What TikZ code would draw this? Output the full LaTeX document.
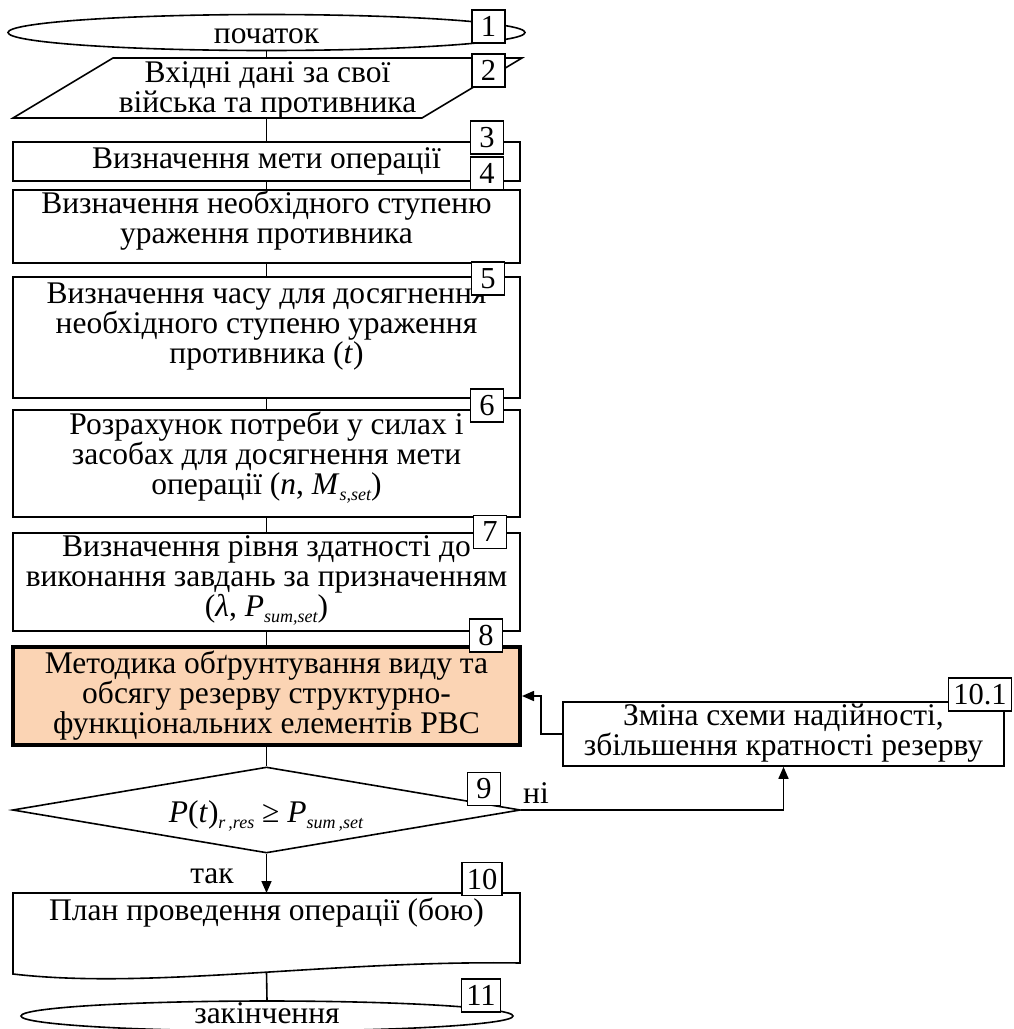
\documentclass[tikz,border=0pt]{standalone}
\usepackage{fontspec}
\setmainfont{Liberation Serif}
\usetikzlibrary{shapes.geometric,arrows.meta}
\definecolor{peach}{RGB}{251,212,180}
% italic subscript used in the formulas
\newcommand{\lowsub}[1]{\raisebox{-6pt}{\fontsize{18}{18}\selectfont\itshape #1}}
\tikzset{
  every node/.style={font=\fontsize{31.5}{30}\selectfont},
  line/.style={line width=1.6pt},
  box/.style={draw, line width=1.6pt, inner sep=0pt},
  place/.style={inner sep=0pt, outer sep=0pt},
  txt/.style={align=center, inner sep=0pt},
  numbox/.style={draw, fill=white, line width=1.6pt, minimum width=33pt,
    minimum height=33pt, inner sep=0pt, inner xsep=5pt, font=\fontsize{30.5}{30}\selectfont},
  arr/.style={line width=1.6pt, -{Triangle[length=12pt,width=10pt]}},
}
\begin{document}
\begin{tikzpicture}[x=1pt,y=-1pt]
\useasboundingbox (0,0) rectangle (1013,1029);

% --- shapes of the main column ---
\node[box, ellipse, minimum width=517pt, minimum height=36pt] (e1) at (266.5,32.5) {};
\node[place, minimum width=409pt, minimum height=60pt] (p2) at (266.5,88) {};
\draw[line] (13,118) -- (113,58) -- (522,58) -- (422,118) -- cycle;
\node[box, minimum width=507pt, minimum height=39pt] (b3) at (266.5,161.5) {};
\node[box, minimum width=507pt, minimum height=73pt] (b4) at (266.5,226.5) {};
\node[box, minimum width=507pt, minimum height=121pt] (b5) at (266.5,337.5) {};
\node[box, minimum width=507pt, minimum height=107pt] (b6) at (266.5,463.5) {};
\node[box, minimum width=507pt, minimum height=98pt] (b7) at (266.5,582) {};
\node[box, fill=peach, line width=4pt, minimum width=507pt, minimum height=98pt] (b8) at (266.5,696) {};
\node[box, diamond, minimum width=508pt, minimum height=86pt] (d9) at (266.5,810) {};
\node[place, minimum width=507pt, minimum height=79pt] (b10) at (266.5,932.5) {};
\draw[line] (13,893) -- (520,893) -- (520,963)
  .. controls (330,960) and (150,990) .. (13,974) -- cycle;
\node[box, ellipse, minimum width=492pt, minimum height=30pt] (e11) at (267,1016) {};
\node[box, minimum width=441pt, minimum height=64pt] (b101) at (783.5,734) {};

% --- texts ---
\node[txt, anchor=base] (t1) at (266.5,43) {початок};
\node[txt] (t2) at (267.5,90) {Вхідні дані за свої\\війська та противника};
\node[txt] (t3) at (266.5,161) {Визначення мети операції};
\node[txt] (t4) at (266.5,221) {Визначення необхідного ступеню\\ураження противника};
\node[txt] (t5) at (266.5,327) {Визначення часу для досягнення\\необхідного ступеню ураження\\противника (\textit{t})};
\node[txt] (t6) at (266.5,458) {Розрахунок потреби у силах і\\засобах для досягнення мети\\операції (\textit{n}, \textit{M}\lowsub{s,set})};
\node[txt] (t7) at (266.5,580) {Визначення рівня здатності до\\виконання завдань за призначенням\\(\textit{λ}, \textit{P}\lowsub{sum,set})};
\node[txt] (t8) at (266.5,696) {Методика обґрунтування виду та\\обсягу резерву структурно-\\функціональних елементів РВС};
\node[txt, anchor=base] (t9) at (266,822) {\textit{P}(\textit{t})\lowsub{r\,,res} ≥ \textit{P}\lowsub{sum\,,set}};
\node[txt] (t10) at (266.5,913) {План проведення операції (бою)};
\node[txt, anchor=base] (t11) at (267,1023) {закінчення};
\node[txt] (t101) at (783.5,733) {Зміна схеми надійності,\\збільшення кратності резерву};
\node[txt] (yes) at (212,876) {так};
\node[txt] (no) at (536,793) {ні};

% --- connectors ---
\draw[line] (e1.south) -- (p2.north);
\draw[line] (p2.south) -- (b3.north);
\draw[line] (b3.south) -- (b4.north);
\draw[line] (b4.south) -- (b5.north);
\draw[line] (b5.south) -- (b6.north);
\draw[line] (b6.south) -- (b7.north);
\draw[line] (b7.south) -- (b8.north);
\draw[line] (b8.south) -- (d9.north);
\draw[arr] (d9.south) -- (b10.north);
\draw[line] (b10.south) -- (e11.north);
\draw[arr] (d9.east) -| (b101.south);
\draw[arr] (b101.west) -- ++(-21,0) |- (b8.east);

% --- step numbers ---
\node[numbox] (n1) at (488.5,26.5) {1};
\node[numbox] (n2) at (488.5,70.5) {2};
\node[numbox] (n3) at (487,137.5) {3};
\node[numbox] (n4) at (487,173.5) {4};
\node[numbox] (n5) at (488,278.5) {5};
\node[numbox] (n6) at (487,405.5) {6};
\node[numbox] (n7) at (490,532) {7};
\node[numbox] (n8) at (486,635.5) {8};
\node[numbox] (n9) at (484,789) {9};
\node[numbox] (n10) at (482,879) {10};
\node[numbox] (n11) at (481,995.5) {11};
\node[numbox] (n101) at (980,694.5) {10.1};
\end{tikzpicture}
\end{document}
